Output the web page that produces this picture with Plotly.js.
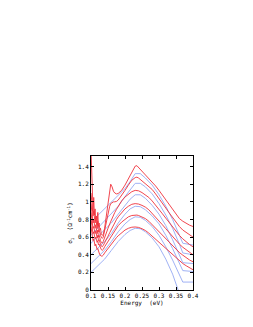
<!DOCTYPE html>
<html><head><meta charset="utf-8">
<script src="https://cdn.plot.ly/plotly-3.0.1.min.js"></script>
<style>html,body{margin:0;padding:0;background:#fff}#chart{width:253px;height:327px}</style>
</head><body><div id="chart"></div>
<script>
const xRed = [0.100,0.102,0.104,0.106,0.108,0.110,0.112,0.114,0.116,0.118,0.120,0.122,0.124,0.126,0.128,0.130,0.133,0.136,0.140,0.145,0.150,0.155,0.158,0.162,0.166,0.170,0.175,0.180,0.190,0.200,0.210,0.220,0.230,0.235,0.240,0.250,0.260,0.270,0.280,0.290,0.300,0.310,0.320,0.330,0.340,0.350,0.360,0.370,0.380,0.390,0.400];
const red1 = [1.60,1.30,1.02,0.90,1.05,0.85,0.92,0.78,0.84,0.74,0.88,0.72,0.76,0.68,0.70,0.64,0.62,0.63,0.70,0.85,1.02,1.16,1.20,1.17,1.12,1.10,1.09,1.095,1.13,1.19,1.26,1.34,1.405,1.41,1.39,1.34,1.30,1.27,1.23,1.18,1.13,1.075,1.02,0.965,0.91,0.86,0.81,0.78,0.755,0.735,0.72];
const red2 = [1.10,0.98,0.90,0.84,0.90,0.80,0.76,0.82,0.72,0.70,0.78,0.66,0.68,0.63,0.62,0.60,0.585,0.60,0.68,0.78,0.88,0.95,0.98,0.995,1.00,1.00,1.005,1.02,1.07,1.13,1.19,1.245,1.275,1.28,1.27,1.24,1.21,1.18,1.14,1.09,1.04,0.985,0.93,0.875,0.82,0.77,0.72,0.68,0.65,0.62,0.60];
const red3 = [0.98,0.88,0.82,0.76,0.80,0.72,0.70,0.74,0.66,0.64,0.68,0.60,0.62,0.57,0.56,0.54,0.53,0.55,0.60,0.65,0.70,0.75,0.78,0.815,0.845,0.88,0.915,0.95,1.01,1.055,1.09,1.115,1.13,1.13,1.125,1.105,1.08,1.05,1.01,0.965,0.915,0.865,0.815,0.765,0.715,0.665,0.62,0.58,0.545,0.515,0.49];
const red4 = [0.88,0.80,0.74,0.70,0.72,0.66,0.64,0.67,0.60,0.59,0.62,0.56,0.57,0.53,0.52,0.50,0.49,0.505,0.54,0.575,0.61,0.65,0.675,0.705,0.735,0.77,0.80,0.83,0.88,0.92,0.95,0.972,0.98,0.98,0.975,0.96,0.94,0.91,0.87,0.83,0.785,0.74,0.695,0.65,0.605,0.56,0.52,0.485,0.455,0.425,0.40];
const red5 = [0.80,0.74,0.68,0.64,0.66,0.60,0.58,0.60,0.55,0.54,0.56,0.51,0.52,0.49,0.475,0.46,0.45,0.46,0.49,0.52,0.55,0.585,0.605,0.63,0.655,0.68,0.705,0.73,0.77,0.805,0.83,0.845,0.85,0.85,0.845,0.83,0.81,0.78,0.74,0.70,0.66,0.62,0.58,0.54,0.50,0.46,0.425,0.395,0.365,0.34,0.32];
const red6 = [0.72,0.66,0.60,0.56,0.58,0.53,0.50,0.52,0.47,0.46,0.47,0.43,0.42,0.40,0.39,0.385,0.385,0.395,0.42,0.445,0.47,0.50,0.515,0.54,0.56,0.575,0.595,0.615,0.65,0.68,0.70,0.712,0.715,0.714,0.71,0.695,0.675,0.645,0.61,0.575,0.545,0.51,0.47,0.435,0.40,0.365,0.33,0.30,0.275,0.25,0.23];

const xBlue = [0.100,0.120,0.140,0.160,0.180,0.200,0.215,0.230,0.245,0.260,0.280,0.300,0.320,0.340,0.360,0.370,0.400];
const blue1 = [0.77,0.845,0.92,0.995,1.07,1.15,1.23,1.32,1.32,1.27,1.19,1.08,0.95,0.80,0.62,0.53,0.51];
const blue2 = [0.62,0.70,0.78,0.86,0.95,1.06,1.14,1.21,1.21,1.17,1.09,0.98,0.85,0.70,0.52,0.42,0.40];
const blue3 = [0.53,0.605,0.68,0.76,0.86,0.96,1.03,1.08,1.08,1.04,0.96,0.86,0.73,0.57,0.40,0.31,0.30];
const blue4 = [0.40,0.475,0.55,0.64,0.76,0.86,0.92,0.95,0.945,0.91,0.84,0.75,0.62,0.47,0.30,0.22,0.21];
const blue5 = [0.30,0.375,0.45,0.55,0.66,0.75,0.80,0.83,0.825,0.79,0.72,0.62,0.49,0.34,0.17,0.09,0.09];
const blue6 = [0.20,0.275,0.35,0.45,0.55,0.63,0.675,0.70,0.695,0.66,0.59,0.49,0.35,0.18,-0.05,-0.15,-0.40];

const xTicks = [0.1,0.15,0.2,0.25,0.3,0.35,0.4];
const xTickText = ['0.1','0.15','0.2','0.25','0.3','0.35','0.4'];
const yTicks = [0,0.2,0.4,0.6,0.8,1,1.2,1.4];
const yTickText = ['0','0.2','0.4','0.6','0.8','1','1.2','1.4'];

const blues = [blue1,blue2,blue3,blue4,blue5,blue6];
const reds = [red1,red2,red3,red4,red5,red6];
const traces = [];
blues.forEach(b => traces.push({x:xBlue,y:b,mode:'lines',line:{color:'rgb(160,178,245)',width:1},hoverinfo:'skip'}));
reds.forEach(r => traces.push({x:xRed,y:r,mode:'lines',line:{color:'rgb(240,50,60)',width:1},opacity:0.9,hoverinfo:'skip'}));

const fnt = {family:'DejaVu Sans Mono, monospace',size:6,color:'#000'};
const layout = {
  width:253,height:327,
  margin:{l:91,r:60,t:156,b:37},
  showlegend:false,
  paper_bgcolor:'#fff',plot_bgcolor:'#fff',
  xaxis:{range:[0.1,0.4],tickvals:xTicks,ticktext:xTickText,ticks:'inside',ticklen:3,tickcolor:'#000',
    showline:true,linecolor:'#000',linewidth:1,mirror:'ticks',showgrid:false,zeroline:false,tickfont:fnt,
    title:{text:'Energy  (eV)',font:fnt,standoff:2}},
  yaxis:{range:[0,1.52],tickvals:yTicks,ticktext:yTickText,ticks:'inside',ticklen:3,tickcolor:'#000',
    showline:true,linecolor:'#000',linewidth:1,mirror:'ticks',showgrid:false,zeroline:false,tickfont:fnt,
    title:{text:'σ<sub>1</sub>  (Ω<sup>-1</sup>cm<sup>-1</sup>)',font:fnt,standoff:4}}
};
Plotly.newPlot('chart',traces,layout,{staticPlot:true,displayModeBar:false});
</script></body></html>
